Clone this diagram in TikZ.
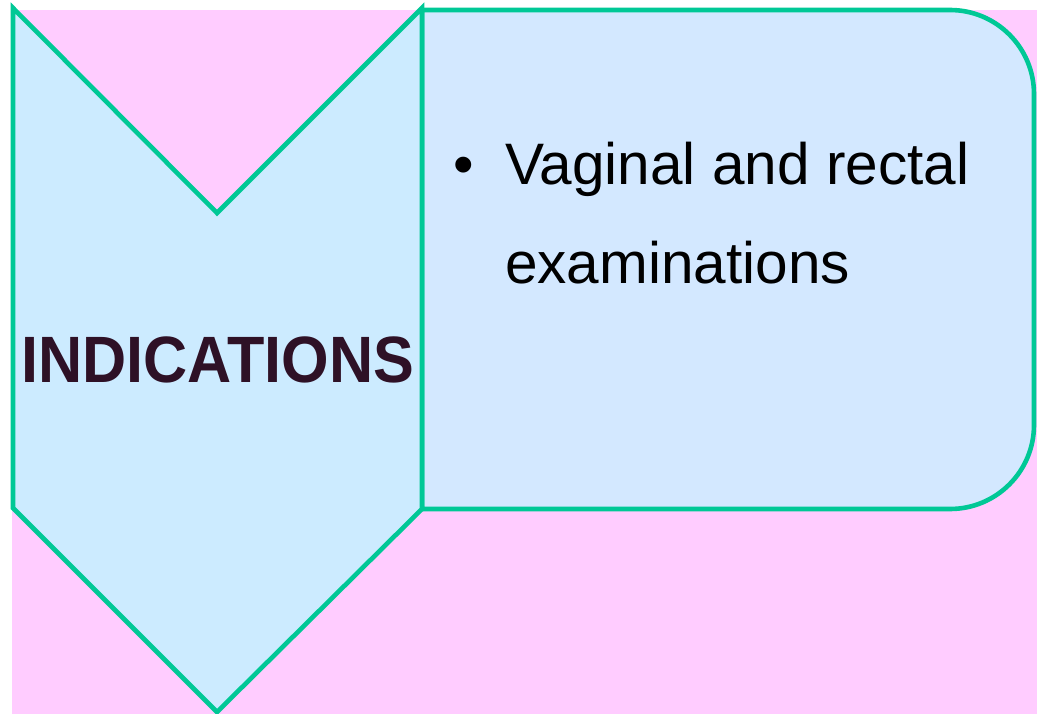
\documentclass[tikz,border=0pt]{standalone}
\usepackage{fontspec}
\setmainfont{Liberation Sans}
\definecolor{bgpink}{HTML}{FFCCFF}
\definecolor{chevfill}{HTML}{CCEBFF}
\definecolor{boxfill}{HTML}{D3E8FF}
\definecolor{edge}{HTML}{00C896}
\definecolor{titlecol}{HTML}{2E1126}
\tikzset{
  shapeline/.style={draw=edge, line width=4.6pt, line join=miter},
  bodytext/.style={inner sep=0pt, anchor=base west, font=\fontsize{58.5}{58.5}\selectfont, text=black},
  titletext/.style={inner sep=0pt, anchor=base, font=\bfseries\fontsize{58}{58}\selectfont, text=titlecol}
}
\begin{document}
\begin{tikzpicture}[x=1pt,y=1pt]
\useasboundingbox (0,0) rectangle (1045,-714);
\fill[bgpink] (12,-10) rectangle (1037,-714);
% rounded box
\path[shapeline, fill=boxfill] (422,-10) -- (950,-10) arc[start angle=90, end angle=0, radius=84]
  -- (1034,-425) arc[start angle=0, end angle=-90, radius=84] -- (422,-509) -- cycle;
% chevron
\path[shapeline, fill=chevfill] (13,-8) -- (217,-213) -- (422,-8) -- (422,-509) -- (217,-712) -- (13,-508) -- cycle;
\node[titletext] (title) at (217.5,-382) {\scalebox{1.054}[1.13]{INDICATIONS}};
\node[bodytext] (bullet) at (453,-185) {•};
\node[bodytext] (line1) at (505,-185) {Vaginal and rectal};
\node[bodytext] (line2) at (505,-284) {examinations};
\end{tikzpicture}
\end{document}
